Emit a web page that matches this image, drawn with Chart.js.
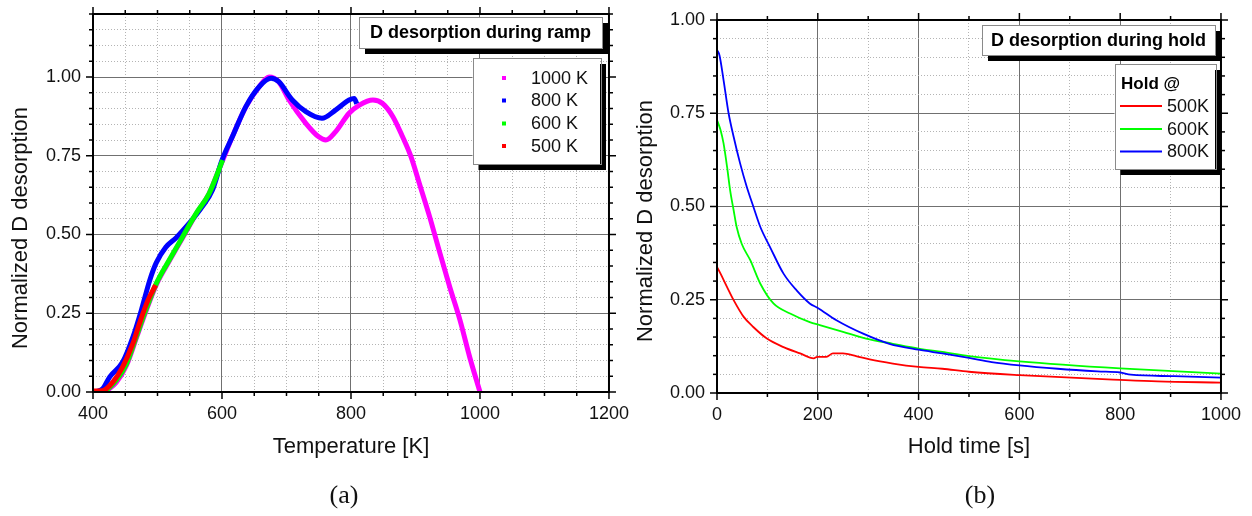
<!DOCTYPE html>
<html>
<head>
<meta charset="utf-8">
<script src="https://cdn.jsdelivr.net/npm/chart.js@4.4.0/dist/chart.umd.min.js"></script>
<style>
  body { margin: 0; background: #fff; }
  canvas { position: absolute; top: 0; }
</style>
</head>
<body>
<canvas id="ramp" width="640" height="516" style="left:0"></canvas>
<canvas id="hold" width="640" height="516" style="left:612px"></canvas>
<script>
// (a) ramp: temperature [K] vs normalized D desorption
const rampT1000 = [415, 425, 436, 452, 467, 480, 498, 518, 539, 560, 580, 600, 616, 637, 658, 673, 688, 704, 730, 750, 761, 776, 797, 813, 834, 849, 865, 880, 893, 906, 922, 938, 953, 969, 984, 1000];
const rampD1000 = [0, 0.01, 0.03, 0.085, 0.17, 0.245, 0.34, 0.415, 0.49, 0.565, 0.63, 0.73, 0.81, 0.905, 0.97, 1.0, 0.985, 0.927, 0.853, 0.81, 0.80, 0.826, 0.885, 0.911, 0.927, 0.916, 0.874, 0.81, 0.747, 0.662, 0.556, 0.44, 0.334, 0.228, 0.111, 0];
const rampT800 = [403, 415, 426, 446, 462, 475, 488, 498, 513, 529, 549, 570, 585, 600, 616, 637, 658, 676, 688, 709, 730, 755, 776, 797, 805, 809];
const rampD800 = [0, 0.01, 0.048, 0.095, 0.175, 0.26, 0.355, 0.41, 0.46, 0.49, 0.535, 0.59, 0.64, 0.736, 0.81, 0.906, 0.97, 0.996, 0.985, 0.927, 0.89, 0.869, 0.895, 0.927, 0.932, 0.915];
const rampT600 = [418, 436, 452, 467, 480, 498, 518, 539, 560, 580, 601];
const rampD600 = [0, 0.037, 0.09, 0.175, 0.25, 0.344, 0.418, 0.493, 0.567, 0.63, 0.736];
const rampT500 = [400, 415, 431, 446, 462, 472, 485, 497];
const rampD500 = [0.003, 0.004, 0.032, 0.08, 0.154, 0.217, 0.29, 0.339];
const rampLabels = ['1000 K', '800 K', '600 K', '500 K'];

// (b) hold: time [s] vs normalized D desorption
const holdT500 = [0, 7, 20, 33, 53, 72, 99, 132, 165, 192, 199, 217, 230, 250, 276, 303, 349, 400, 447, 500, 600, 800, 874, 1000];
const holdD500 = [0.338, 0.32, 0.284, 0.249, 0.204, 0.177, 0.146, 0.123, 0.106, 0.093, 0.097, 0.097, 0.106, 0.106, 0.099, 0.09, 0.079, 0.07, 0.065, 0.057, 0.048, 0.035, 0.031, 0.028];
const holdT600 = [0, 7, 13, 20, 26, 33, 39, 49, 66, 86, 112, 145, 184, 204, 250, 296, 349, 400, 447, 500, 600, 800, 1000];
const holdD600 = [0.732, 0.705, 0.669, 0.606, 0.544, 0.49, 0.445, 0.4, 0.356, 0.293, 0.24, 0.213, 0.19, 0.182, 0.164, 0.146, 0.132, 0.119, 0.11, 0.099, 0.085, 0.066, 0.052];
const holdT800 = [0, 5, 13, 23, 33, 46, 59, 72, 86, 105, 132, 158, 184, 200, 237, 290, 342, 400, 447, 500, 545, 600, 676, 755, 800, 821, 907, 1000];
const holdD800 = [0.92, 0.905, 0.839, 0.75, 0.687, 0.615, 0.553, 0.5, 0.445, 0.392, 0.32, 0.275, 0.24, 0.228, 0.195, 0.159, 0.132, 0.116, 0.106, 0.094, 0.083, 0.074, 0.065, 0.058, 0.055, 0.049, 0.045, 0.041];
const holdLabels = ['500K', '600K', '800K'];

const magenta = '#ff00ff', blue = '#0000ff', green = '#00ff00', red = '#ff0000';
const sans = '"Liberation Sans", Arial, sans-serif';
Chart.defaults.font.family = sans;

function pts(xs, ys) {
    return xs.map((x, i) => ({x: x, y: ys[i]}));
}

function onStep(v, step) {
    const r = v / step;
    return Math.abs(r - Math.round(r)) < 1e-6;
}

function series(label, xs, ys, color, width, order) {
    return {
        label: label,
        data: pts(xs, ys),
        borderColor: color,
        backgroundColor: color,
        borderWidth: width,
        showLine: true,
        pointRadius: 0,
        cubicInterpolationMode: 'monotone',
        order: order
    };
}

// linear axis with a dark grid line every `major` and dotted minor lines every `step`
function axis(min, max, step, major, pad, fit) {
    const isMajor = c => c.tick && onStep(c.tick.value, major);
    return {
        type: 'linear',
        min: min,
        max: max,
        afterFit: s => {
            fit(s);
            s.paddingTop = 0;
            s.paddingBottom = 0;
        },
        border: { display: false, dash: c => isMajor(c) ? [] : [1, 2] },
        grid: { drawTicks: false, lineWidth: 1, color: c => isMajor(c) ? '#707070' : '#b4b4b4' },
        ticks: {
            stepSize: step,
            autoSkip: false,
            maxRotation: 0,
            padding: pad,
            color: '#111',
            font: { size: 18 },
            callback: v => onStep(v, major) ? (step < 1 ? v.toFixed(2) : String(v)) : ''
        }
    };
}

function shadowBox(ctx, r) {
    ctx.fillStyle = '#000';
    ctx.fillRect(r[0] + 6, r[1] + 6, r[2], r[3]);
    ctx.fillStyle = '#fff';
    ctx.fillRect(r[0], r[1], r[2], r[3]);
    ctx.strokeStyle = '#8a8a8a';
    ctx.lineWidth = 1;
    ctx.strokeRect(Math.round(r[0]) + 0.5, Math.round(r[1]) + 0.5, Math.round(r[2]), Math.round(r[3]));
}

// frame with mirrored ticks, boxed title + legend, axis titles
const panel = {
    id: 'panel',
    afterDatasetsDraw(chart, args, o) {
        const ctx = chart.ctx;
        ctx.save();
        const t = o.titleBox;
        shadowBox(ctx, t);
        ctx.fillStyle = '#000';
        ctx.font = 'bold 18px ' + sans;
        ctx.textAlign = 'center';
        ctx.textBaseline = 'middle';
        ctx.fillText(o.title, t[0] + t[2] / 2, t[1] + t[3] / 2 + 1);

        shadowBox(ctx, o.legendBox);
        ctx.textAlign = 'left';
        if (o.header) {
            ctx.fillStyle = '#000';
            ctx.font = 'bold 17px ' + sans;
            ctx.fillText(o.header, o.headerPos[0], o.headerPos[1]);
        }
        ctx.font = '18px ' + sans;
        chart.data.datasets.forEach((ds, i) => {
            const y = o.rows[i];
            ctx.fillStyle = ds.borderColor;
            if (o.sample === 'line') {
                ctx.strokeStyle = ds.borderColor;
                ctx.lineWidth = 2;
                ctx.beginPath();
                ctx.moveTo(o.sampleX[0], y);
                ctx.lineTo(o.sampleX[1], y);
                ctx.stroke();
            } else {
                ctx.fillRect(o.sampleX[0] - 2, y - 2, 4, 4);
            }
            ctx.fillStyle = '#111';
            ctx.fillText(ds.label, o.textX, y + 1);
        });
        ctx.restore();
    },
    afterDraw(chart, args, o) {
        const {ctx, chartArea: a, scales: {x, y}} = chart;
        ctx.save();
        ctx.strokeStyle = '#000';
        ctx.lineWidth = 1.5;
        const seg = (x1, y1, x2, y2) => {
            ctx.beginPath();
            ctx.moveTo(x1, y1);
            ctx.lineTo(x2, y2);
            ctx.stroke();
        };
        x.ticks.forEach(tk => {
            const px = x.getPixelForValue(tk.value);
            const len = onStep(tk.value, o.xMajor) ? 7 : 4;
            seg(px, a.bottom, px, a.bottom + len);
            seg(px, a.top, px, a.top - len);
        });
        y.ticks.forEach(tk => {
            const py = y.getPixelForValue(tk.value);
            const len = onStep(tk.value, o.yMajor) ? 7 : 4;
            seg(a.left, py, a.left - len, py);
            seg(a.right, py, a.right + len, py);
        });
        ctx.lineWidth = 2;
        ctx.strokeRect(a.left, a.top, a.right - a.left, a.bottom - a.top);

        ctx.fillStyle = '#111';
        ctx.textAlign = 'center';
        ctx.textBaseline = 'middle';
        ctx.font = '22px ' + sans;
        ctx.fillText(o.xTitle, (a.left + a.right) / 2, 447);
        ctx.save();
        ctx.translate(o.yTitlePos[0], o.yTitlePos[1]);
        ctx.rotate(-Math.PI / 2);
        ctx.fillText('Normalized D desorption', 0, 0);
        ctx.restore();
        ctx.font = '26px "Liberation Serif", "Times New Roman", serif';
        ctx.fillText(o.tag, o.tagX, 496);
        ctx.restore();
    }
};

new Chart(document.getElementById('ramp'), {
    type: 'scatter',
    data: {
        datasets: [
            series(rampLabels[0], rampT1000, rampD1000, magenta, 5, 3),
            series(rampLabels[1], rampT800, rampD800, blue, 5, 2),
            series(rampLabels[2], rampT600, rampD600, green, 5, 1),
            series(rampLabels[3], rampT500, rampD500, red, 5, 0)
        ]
    },
    options: {
        responsive: false,
        animation: false,
        layout: { padding: { top: 14, right: 29 } },
        plugins: {
            legend: { display: false },
            tooltip: { enabled: false },
            panel: {
                xMajor: 200, yMajor: 0.25,
                title: 'D desorption during ramp',
                titleBox: [359, 17, 243, 31],
                legendBox: [472.5, 58, 127.5, 106],
                rows: [78, 100.5, 123.5, 146],
                sample: 'marker',
                sampleX: [504],
                textX: 531,
                xTitle: 'Temperature [K]',
                yTitlePos: [21, 228],
                tag: '(a)', tagX: 344
            }
        },
        scales: {
            x: axis(400, 1200, 50, 200, 11, s => { s.height = 124; }),
            y: axis(0, 1.2, 0.05, 0.25, 12, s => { s.width = 93; })
        }
    },
    plugins: [panel]
});

new Chart(document.getElementById('hold'), {
    type: 'scatter',
    data: {
        datasets: [
            series(holdLabels[0], holdT500, holdD500, red, 1.8, 2),
            series(holdLabels[1], holdT600, holdD600, green, 1.8, 1),
            series(holdLabels[2], holdT800, holdD800, blue, 1.8, 0)
        ]
    },
    options: {
        responsive: false,
        animation: false,
        layout: { padding: { top: 20, right: 28 } },
        plugins: {
            legend: { display: false },
            tooltip: { enabled: false },
            panel: {
                xMajor: 200, yMajor: 0.25,
                title: 'D desorption during hold',
                titleBox: [370, 25, 233, 30],
                legendBox: [502.5, 64, 100.5, 105],
                header: 'Hold @',
                headerPos: [509, 84],
                rows: [106, 129, 151.5],
                sample: 'line',
                sampleX: [508, 550],
                textX: 555,
                xTitle: 'Hold time [s]',
                yTitlePos: [34, 221],
                tag: '(b)', tagX: 368
            }
        },
        scales: {
            x: axis(0, 1000, 100, 200, 11, s => { s.height = 123; }),
            y: axis(0, 1, 0.05, 0.25, 12, s => { s.width = 105; })
        }
    },
    plugins: [panel]
});
</script>
</body>
</html>
